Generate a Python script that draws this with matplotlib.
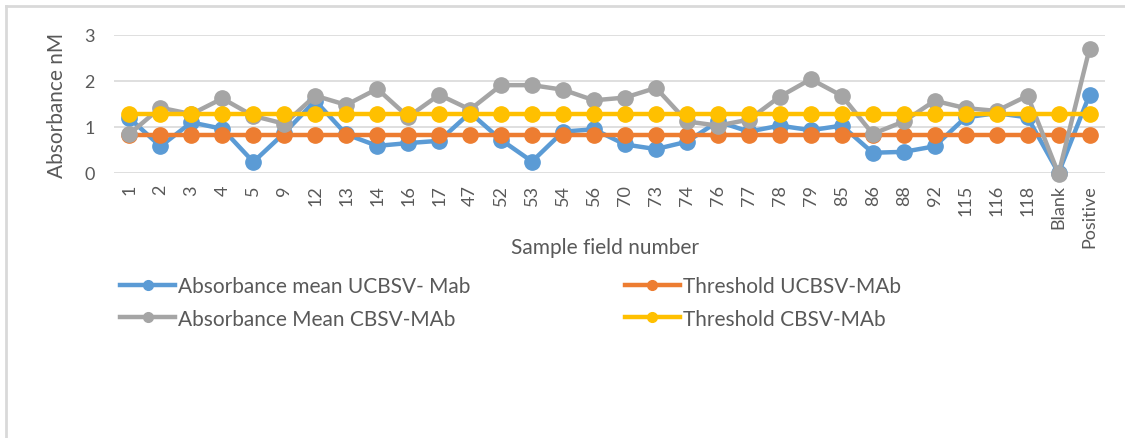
import matplotlib
matplotlib.use("Agg")
import matplotlib.pyplot as plt
from matplotlib.lines import Line2D

plt.rcParams['font.family'] = ['Lato', 'DejaVu Sans']

# Sample fields on the x axis
samples = ["1", "2", "3", "4", "5", "9", "12", "13", "14", "16", "17", "47",
           "52", "53", "54", "56", "70", "73", "74", "76", "77", "78", "79",
           "85", "86", "88", "92", "115", "116", "118", "Blank", "Positive"]

# Mean absorbance per field, UCBSV monoclonal antibody
ucbsv_mean = [1.19, 0.58, 1.10, 0.96, 0.24, 0.87, 1.57, 0.84, 0.59, 0.65,
              0.70, 1.31, 0.72, 0.25, 0.90, 0.95, 0.62, 0.52, 0.68, 1.12,
              0.90, 1.03, 0.93, 1.03, 0.44, 0.46, 0.58, 1.21, 1.30, 1.21,
              0.00, 1.70]

# Mean absorbance per field, CBSV monoclonal antibody
cbsv_mean = [0.85, 1.42, 1.28, 1.62, 1.24, 1.07, 1.68, 1.48, 1.83, 1.22,
             1.70, 1.38, 1.91, 1.91, 1.81, 1.58, 1.64, 1.85, 1.12, 1.03,
             1.16, 1.66, 2.04, 1.68, 0.85, 1.12, 1.57, 1.41, 1.35, 1.68,
             -0.02, 2.70]

# Positive/negative cut-off values
ucbsv_threshold = 0.82
cbsv_threshold = 1.29

series_labels = ["Absorbance mean UCBSV- Mab", "Threshold UCBSV-MAb",
                 "Absorbance Mean CBSV-MAb", "Threshold CBSV-MAb"]
series_colors = ["#5b9bd5", "#ed7d31", "#a5a5a5", "#ffc000"]

text_color = "#595959"
grid_color = "#d9d9d9"

fig = plt.figure(figsize=(11.25, 4.39), dpi=100)
ax = fig.add_axes([114 / 1125, 1 - 174 / 439, 991 / 1125, 138 / 439])

x = list(range(len(samples)))
series_values = [ucbsv_mean,
                 [ucbsv_threshold] * len(samples),
                 cbsv_mean,
                 [cbsv_threshold] * len(samples)]

handles = []
for vals, col, lab in zip(series_values, series_colors, series_labels):
    ax.plot(x, vals, color=col, lw=3.2, marker='o', ms=11,
            clip_on=False, zorder=3, solid_joinstyle='round')
    handles.append(Line2D([0], [0], color=col, lw=3.2, marker='o', ms=7,
                          label=lab))

ax.set_xlim(-0.5, len(samples) - 0.5)
ax.set_ylim(0, 3)
ax.set_yticks([0, 1, 2, 3])
ax.yaxis.grid(True, color=grid_color, lw=1.2)
ax.set_axisbelow(True)
for s in ax.spines.values():
    s.set_visible(False)

ax.set_xticks(x)
ax.set_xticklabels(samples, rotation=90, fontsize=13, color=text_color)
ax.tick_params(axis='both', length=0, labelsize=13, colors=text_color)
ax.tick_params(axis='x', pad=8)
ax.tick_params(axis='y', pad=14)

ax.set_ylabel("Absorbance nM", fontsize=15, color=text_color, labelpad=12)
fig.text(605 / 1125, 1 - 248 / 439, "Sample field number", fontsize=15,
         color=text_color, ha='center', va='center')

# two rows: blue/orange on top, grey/yellow below
order = [0, 2, 1, 3]
leg = fig.legend([handles[i] for i in order],
                 [series_labels[i] for i in order],
                 ncol=2, loc='upper left',
                 bbox_to_anchor=(120 / 1125, 1 - 277 / 439),
                 frameon=False, fontsize=15, handlelength=2.65,
                 handletextpad=0.15, columnspacing=7.4, labelspacing=0.6,
                 borderaxespad=0, borderpad=0)
for t in leg.get_texts():
    t.set_color(text_color)

# chart-area frame: top and left edges
fig.add_artist(Line2D([6 / 1125, 6 / 1125], [0, 1 - 7 / 439],
                      color=grid_color, lw=2, transform=fig.transFigure))
fig.add_artist(Line2D([6 / 1125, 1], [1 - 7 / 439, 1 - 7 / 439],
                      color=grid_color, lw=2, transform=fig.transFigure))

fig.savefig("out.png", dpi=100, facecolor="white")
